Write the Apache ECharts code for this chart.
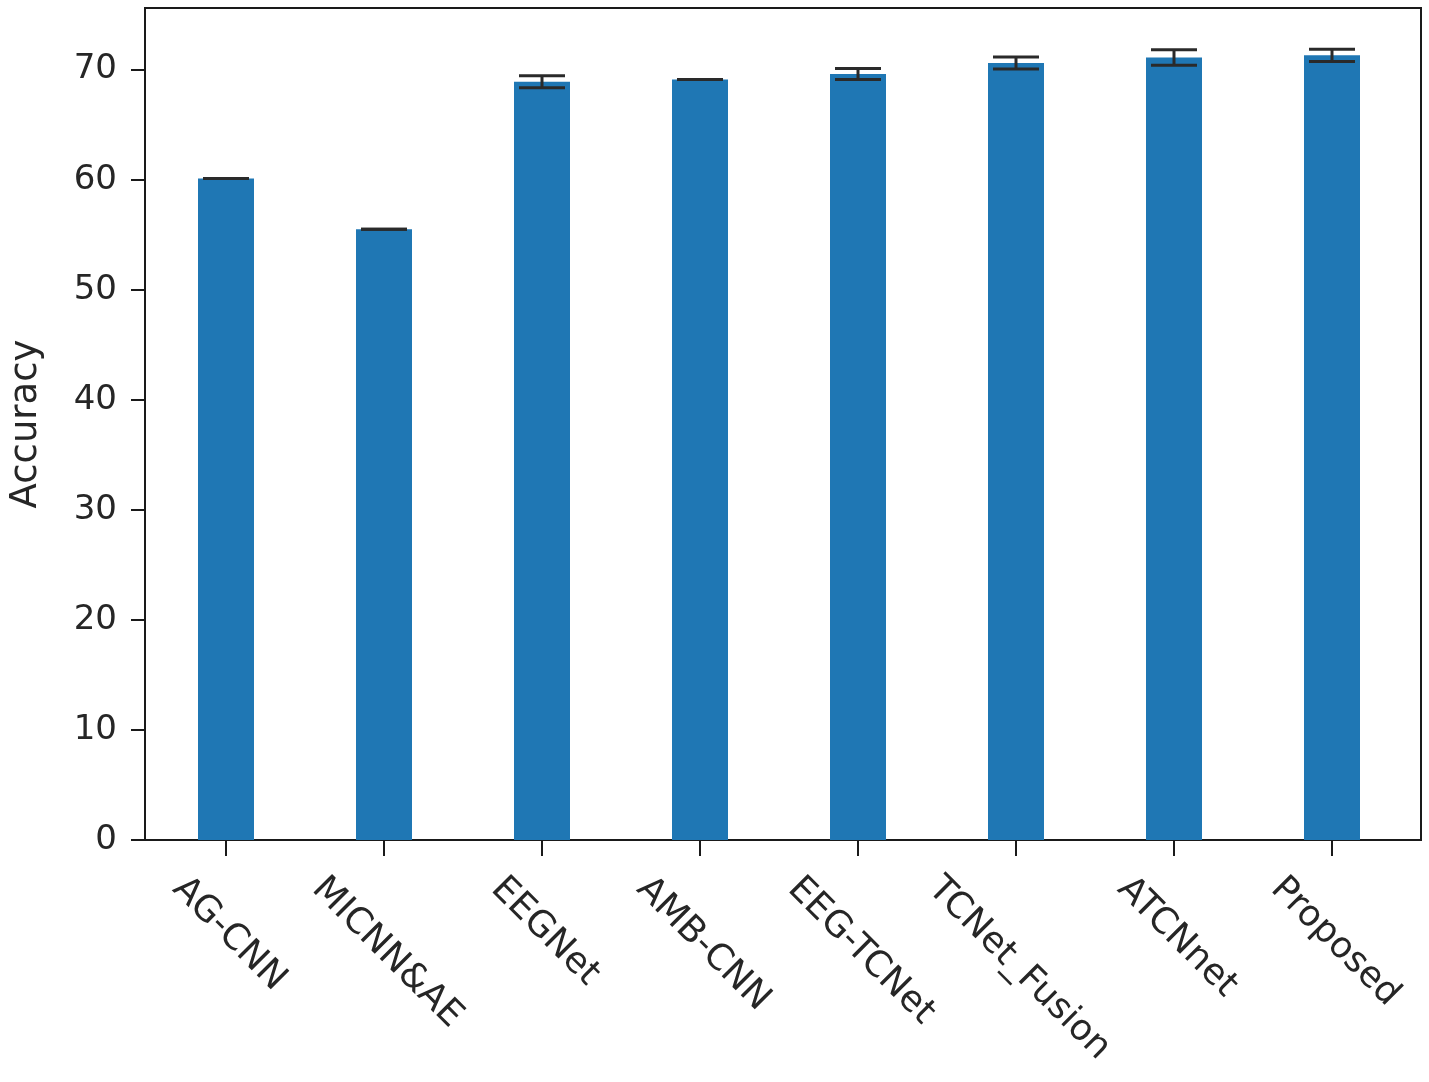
<!DOCTYPE html>
<html>
<head>
<meta charset="utf-8">
<script src="https://cdn.jsdelivr.net/npm/echarts@6/dist/echarts.min.js"></script>
<style>
html,body{margin:0;padding:0;background:#fff;}
#chart{width:1429px;height:1082px;}
</style>
</head>
<body>
<div id="chart"></div>
<script>
const categories = ['AG-CNN', 'MICNN&AE', 'EEGNet', 'AMB-CNN', 'EEG-TCNet', 'TCNet_Fusion', 'ATCNnet', 'Proposed'];
const accuracy = [60.1, 55.5, 68.9, 69.1, 69.6, 70.6, 71.1, 71.3];
const errors = [0.0, 0.0, 0.55, 0.0, 0.5, 0.55, 0.7, 0.55];
const yTicks = [0, 10, 20, 30, 40, 50, 60, 70];
const yMax = 75.6;

const FONT = '"DejaVu Sans", sans-serif';
const FS = 34;
const XFS = 36;
const TEXT = '#262626';
const LINE = '#1a1a1a';

const mc = document.createElement('canvas').getContext('2d');
mc.font = XFS + 'px ' + FONT;
function textW(t) { return mc.measureText(t).width; }

const chart = echarts.init(document.getElementById('chart'), null, {renderer: 'canvas'});

const option = {
  animation: false,
  backgroundColor: '#fff',
  grid: [
    {left: 142, right: 8, top: 8, bottom: 242, show: true, borderColor: LINE, borderWidth: 2, backgroundColor: 'transparent'},
    {left: 147, right: 18, top: 8, bottom: 242}
  ],
  xAxis: [
    {type: 'value', gridIndex: 0, min: 0, max: 1, show: false},
    {
      type: 'category', gridIndex: 1, data: categories,
      axisLine: {show: false},
      axisTick: {show: true, alignWithLabel: true, length: 16, lineStyle: {color: LINE, width: 2}},
      axisLabel: {show: false},
      splitLine: {show: false}
    }
  ],
  yAxis: [
    {
      type: 'value', gridIndex: 0, min: 0, max: yMax, interval: 10,
      axisLine: {show: true, lineStyle: {color: LINE, width: 2}},
      axisTick: {show: true, length: 14, lineStyle: {color: LINE, width: 2}},
      splitLine: {show: false},
      axisLabel: {
        fontSize: FS, fontFamily: FONT, color: TEXT, margin: 28, showMaxLabel: false,
        formatter: function (v) { return yTicks.indexOf(v) >= 0 ? String(v) : ''; }
      },
      name: 'Accuracy', nameLocation: 'middle', nameGap: 100,
      nameTextStyle: {fontSize: 37, fontFamily: FONT, color: TEXT}
    },
    {type: 'value', gridIndex: 1, min: 0, max: yMax, show: false}
  ],
  series: [
    {
      type: 'bar', xAxisIndex: 1, yAxisIndex: 1,
      data: accuracy, barWidth: 56,
      itemStyle: {color: '#1f77b4'}
    },
    {
      type: 'custom', xAxisIndex: 1, yAxisIndex: 1, clip: false, z: 5,
      data: accuracy.map((v, i) => [i, v - errors[i], v + errors[i]]),
      renderItem: function (params, api) {
        const x = api.coord([api.value(0), 0])[0];
        const lo = api.coord([api.value(0), api.value(1)])[1];
        const hi = api.coord([api.value(0), api.value(2)])[1];
        const hw = 23;
        const st = {stroke: '#2a2a2a', lineWidth: 3};
        return {
          type: 'group',
          children: [
            {type: 'line', shape: {x1: x, y1: lo, x2: x, y2: hi}, style: st},
            {type: 'line', shape: {x1: x - hw, y1: lo, x2: x + hw, y2: lo}, style: st},
            {type: 'line', shape: {x1: x - hw, y1: hi, x2: x + hw, y2: hi}, style: st}
          ]
        };
      }
    },
    {
      type: 'custom', xAxisIndex: 1, yAxisIndex: 1, clip: false, silent: true,
      data: categories.map((c, i) => [i, 0]),
      renderItem: function (params, api) {
        const idx = params.dataIndex;
        const p = api.coord([api.value(0), 0]);
        const t = categories[idx];
        const w = textW(t);
        const h = (w + XFS * 1.05) * Math.SQRT1_2;
        return {
          type: 'text',
          x: p[0] + 3,
          y: p[1] + 30 + h / 2,
          rotation: -Math.PI / 4,
          style: {
            text: t, fontSize: XFS, fontFamily: FONT, fill: TEXT,
            align: 'center', verticalAlign: 'middle'
          }
        };
      }
    }
  ]
};
chart.setOption(option);
</script>
</body>
</html>
